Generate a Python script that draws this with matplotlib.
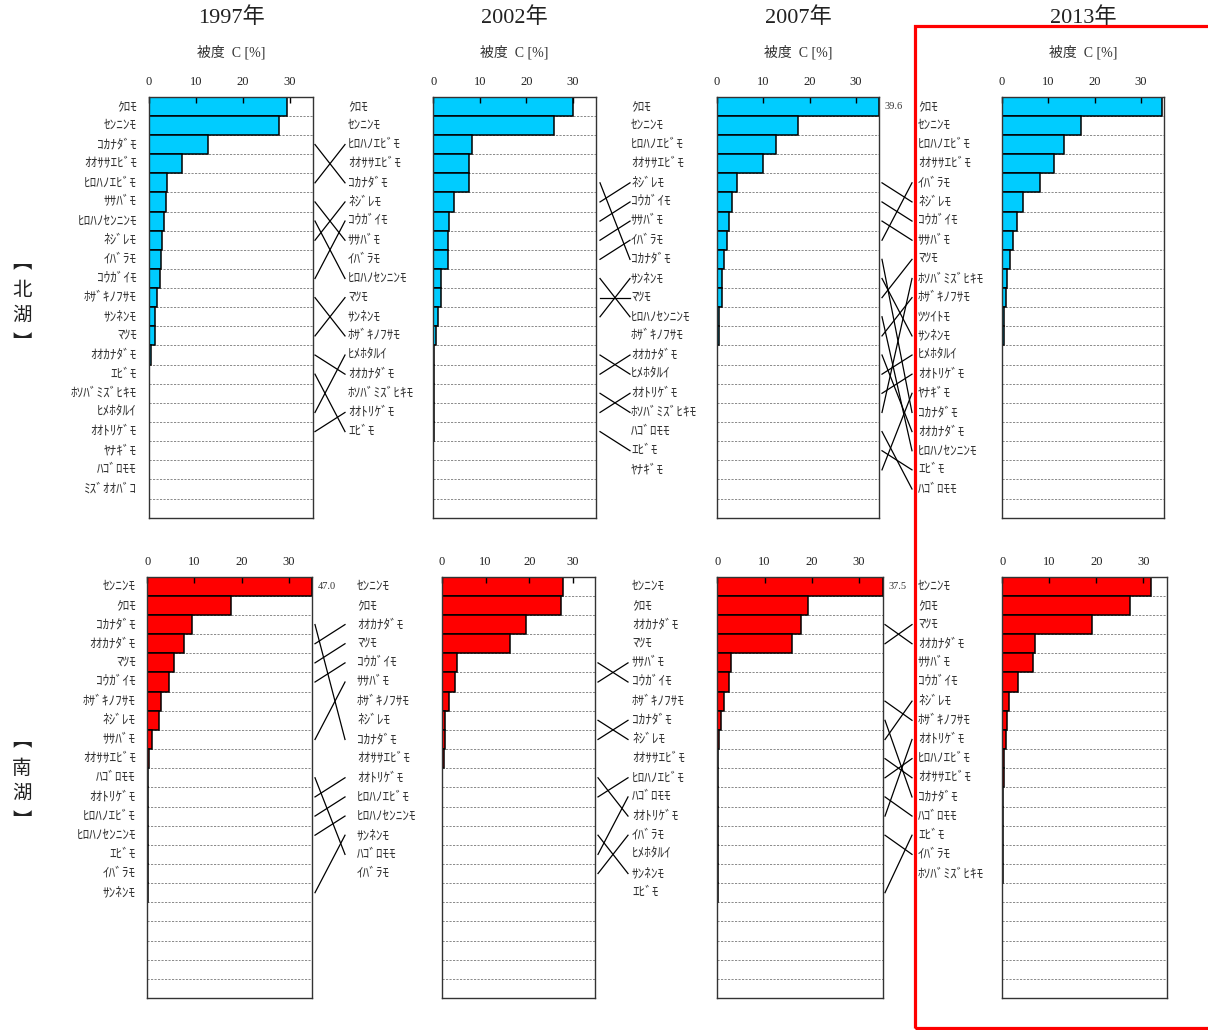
import matplotlib
matplotlib.use('Agg')
import matplotlib.pyplot as plt
from matplotlib.patches import Rectangle
from matplotlib.transforms import blended_transform_factory

W, H = 1208, 1030
JP = ['Noto Sans CJK JP', 'DejaVu Sans']
SERIF = ['Liberation Serif', 'Noto Sans CJK JP', 'DejaVu Sans']
plt.rcParams['font.family'] = SERIF

# ---------------- data ----------------
years = ['1997年', '2002年', '2007年', '2013年']
axis_title = '被度  C [%]'
x_ticks = [0, 10, 20, 30]
x_max = 35
n_rows = 22

north_1997_species = ['ｸﾛﾓ', 'ｾﾝﾆﾝﾓ', 'ｺｶﾅﾀﾞﾓ', 'ｵｵｻｻｴﾋﾞﾓ', 'ﾋﾛﾊﾉｴﾋﾞﾓ', 'ｻｻﾊﾞﾓ', 'ﾋﾛﾊﾉｾﾝﾆﾝﾓ',
                      'ﾈｼﾞﾚﾓ', 'ｲﾊﾞﾗﾓ', 'ｺｳｶﾞｲﾓ', 'ﾎｻﾞｷﾉﾌｻﾓ', 'ｻﾝﾈﾝﾓ', 'ﾏﾂﾓ', 'ｵｵｶﾅﾀﾞﾓ', 'ｴﾋﾞﾓ',
                      'ﾎｿﾊﾞﾐｽﾞﾋｷﾓ', 'ﾋﾒﾎﾀﾙｲ', 'ｵｵﾄﾘｹﾞﾓ', 'ﾔﾅｷﾞﾓ', 'ﾊｺﾞﾛﾓﾓ', 'ﾐｽﾞｵｵﾊﾞｺ']
north_1997_cover = [29.4, 27.7, 12.6, 7.1, 3.9, 3.7, 3.3, 2.7, 2.5, 2.3, 1.8, 1.3, 1.3, 0.4,
                    0.1, 0.1, 0.1, 0.1, 0.05, 0.05, 0.05]

north_2002_species = ['ｸﾛﾓ', 'ｾﾝﾆﾝﾓ', 'ﾋﾛﾊﾉｴﾋﾞﾓ', 'ｵｵｻｻｴﾋﾞﾓ', 'ｺｶﾅﾀﾞﾓ', 'ﾈｼﾞﾚﾓ', 'ｺｳｶﾞｲﾓ', 'ｻｻﾊﾞﾓ',
                      'ｲﾊﾞﾗﾓ', 'ﾋﾛﾊﾉｾﾝﾆﾝﾓ', 'ﾏﾂﾓ', 'ｻﾝﾈﾝﾓ', 'ﾎｻﾞｷﾉﾌｻﾓ', 'ﾋﾒﾎﾀﾙｲ', 'ｵｵｶﾅﾀﾞﾓ',
                      'ﾎｿﾊﾞﾐｽﾞﾋｷﾓ', 'ｵｵﾄﾘｹﾞﾓ', 'ｴﾋﾞﾓ']
north_2002_cover = [30.1, 25.9, 8.4, 7.6, 7.6, 4.5, 3.4, 3.1, 3.1, 1.7, 1.7, 1.1, 0.6,
                    0.1, 0.1, 0.1, 0.05, 0.05]

north_2007_species = ['ｸﾛﾓ', 'ｾﾝﾆﾝﾓ', 'ﾋﾛﾊﾉｴﾋﾞﾓ', 'ｵｵｻｻｴﾋﾞﾓ', 'ﾈｼﾞﾚﾓ', 'ｺｳｶﾞｲﾓ', 'ｻｻﾊﾞﾓ', 'ｲﾊﾞﾗﾓ',
                      'ｺｶﾅﾀﾞﾓ', 'ｻﾝﾈﾝﾓ', 'ﾏﾂﾓ', 'ﾋﾛﾊﾉｾﾝﾆﾝﾓ', 'ﾎｻﾞｷﾉﾌｻﾓ', 'ｵｵｶﾅﾀﾞﾓ', 'ﾋﾒﾎﾀﾙｲ',
                      'ｵｵﾄﾘｹﾞﾓ', 'ﾎｿﾊﾞﾐｽﾞﾋｷﾓ', 'ﾊｺﾞﾛﾓﾓ', 'ｴﾋﾞﾓ', 'ﾔﾅｷﾞﾓ']
north_2007_cover = [39.6, 17.4, 12.7, 10.0, 4.4, 3.2, 2.7, 2.3, 1.6, 1.1, 1.1, 0.5, 0.5,
                    0.1, 0.1, 0.1, 0.1, 0.05, 0.05, 0.05]

north_2013_species = ['ｸﾛﾓ', 'ｾﾝﾆﾝﾓ', 'ﾋﾛﾊﾉｴﾋﾞﾓ', 'ｵｵｻｻｴﾋﾞﾓ', 'ｲﾊﾞﾗﾓ', 'ﾈｼﾞﾚﾓ', 'ｺｳｶﾞｲﾓ', 'ｻｻﾊﾞﾓ',
                      'ﾏﾂﾓ', 'ﾎｿﾊﾞﾐｽﾞﾋｷﾓ', 'ﾎｻﾞｷﾉﾌｻﾓ', 'ﾂﾂｲﾄﾓ', 'ｻﾝﾈﾝﾓ', 'ﾋﾒﾎﾀﾙｲ', 'ｵｵﾄﾘｹﾞﾓ',
                      'ﾔﾅｷﾞﾓ', 'ｺｶﾅﾀﾞﾓ', 'ｵｵｶﾅﾀﾞﾓ', 'ﾋﾛﾊﾉｾﾝﾆﾝﾓ', 'ｴﾋﾞﾓ', 'ﾊｺﾞﾛﾓﾓ']
north_2013_cover = [34.4, 17.1, 13.4, 11.2, 8.2, 4.6, 3.4, 2.5, 1.8, 1.1, 0.9, 0.4, 0.4,
                    0.1, 0.1, 0.1, 0.1, 0.05, 0.05, 0.05, 0.05]

south_1997_species = ['ｾﾝﾆﾝﾓ', 'ｸﾛﾓ', 'ｺｶﾅﾀﾞﾓ', 'ｵｵｶﾅﾀﾞﾓ', 'ﾏﾂﾓ', 'ｺｳｶﾞｲﾓ', 'ﾎｻﾞｷﾉﾌｻﾓ', 'ﾈｼﾞﾚﾓ',
                      'ｻｻﾊﾞﾓ', 'ｵｵｻｻｴﾋﾞﾓ', 'ﾊｺﾞﾛﾓﾓ', 'ｵｵﾄﾘｹﾞﾓ', 'ﾋﾛﾊﾉｴﾋﾞﾓ', 'ﾋﾛﾊﾉｾﾝﾆﾝﾓ', 'ｴﾋﾞﾓ',
                      'ｲﾊﾞﾗﾓ', 'ｻﾝﾈﾝﾓ']
south_1997_cover = [47.0, 17.7, 9.4, 7.7, 5.7, 4.5, 3.0, 2.4, 1.1, 0.4, 0.2,
                    0.05, 0.05, 0.05, 0.05, 0.05, 0.05]

south_2002_species = ['ｾﾝﾆﾝﾓ', 'ｸﾛﾓ', 'ｵｵｶﾅﾀﾞﾓ', 'ﾏﾂﾓ', 'ｺｳｶﾞｲﾓ', 'ｻｻﾊﾞﾓ', 'ﾎｻﾞｷﾉﾌｻﾓ', 'ﾈｼﾞﾚﾓ',
                      'ｺｶﾅﾀﾞﾓ', 'ｵｵｻｻｴﾋﾞﾓ', 'ｵｵﾄﾘｹﾞﾓ', 'ﾋﾛﾊﾉｴﾋﾞﾓ', 'ﾋﾛﾊﾉｾﾝﾆﾝﾓ', 'ｻﾝﾈﾝﾓ', 'ﾊｺﾞﾛﾓﾓ',
                      'ｲﾊﾞﾗﾓ']
south_2002_cover = [27.6, 27.3, 19.2, 15.6, 3.4, 3.0, 1.7, 0.8, 0.8, 0.5,
                    0.05, 0.05, 0.05, 0.05, 0.05, 0.05]

south_2007_species = ['ｾﾝﾆﾝﾓ', 'ｸﾛﾓ', 'ｵｵｶﾅﾀﾞﾓ', 'ﾏﾂﾓ', 'ｻｻﾊﾞﾓ', 'ｺｳｶﾞｲﾓ', 'ﾎｻﾞｷﾉﾌｻﾓ', 'ｺｶﾅﾀﾞﾓ',
                      'ﾈｼﾞﾚﾓ', 'ｵｵｻｻｴﾋﾞﾓ', 'ﾋﾛﾊﾉｴﾋﾞﾓ', 'ﾊｺﾞﾛﾓﾓ', 'ｵｵﾄﾘｹﾞﾓ', 'ｲﾊﾞﾗﾓ', 'ﾋﾒﾎﾀﾙｲ',
                      'ｻﾝﾈﾝﾓ', 'ｴﾋﾞﾓ']
south_2007_cover = [37.5, 19.1, 17.8, 15.9, 3.0, 2.5, 1.5, 0.7, 0.35,
                    0.05, 0.05, 0.05, 0.05, 0.05, 0.05, 0.05, 0.05]

south_2013_species = ['ｾﾝﾆﾝﾓ', 'ｸﾛﾓ', 'ﾏﾂﾓ', 'ｵｵｶﾅﾀﾞﾓ', 'ｻｻﾊﾞﾓ', 'ｺｳｶﾞｲﾓ', 'ﾈｼﾞﾚﾓ', 'ﾎｻﾞｷﾉﾌｻﾓ',
                      'ｵｵﾄﾘｹﾞﾓ', 'ﾋﾛﾊﾉｴﾋﾞﾓ', 'ｵｵｻｻｴﾋﾞﾓ', 'ｺｶﾅﾀﾞﾓ', 'ﾊｺﾞﾛﾓﾓ', 'ｴﾋﾞﾓ', 'ｲﾊﾞﾗﾓ',
                      'ﾎｿﾊﾞﾐｽﾞﾋｷﾓ']
south_2013_cover = [31.6, 27.2, 19.0, 6.9, 6.5, 3.3, 1.5, 1.1, 0.7, 0.35, 0.35,
                    0.05, 0.05, 0.05, 0.05, 0.05]

# connectors also drawn for these species although rank unchanged (row, gap index)
extra_links = {('north', 1): ['ﾏﾂﾓ']}

north_color = '#00CCFF'
south_color = '#FF0000'

# ---------------- layout (pixels) ----------------
north_panels_x = [(149, 313.3), (433.3, 596), (716.7, 879.3), (1001.7, 1164.3)]
north_y = (96.7, 517.7)
south_panels_x = [(147.3, 312.3), (441.7, 595), (717.3, 882.7), (1002.3, 1166.7)]
south_y = (576.7, 998.0)

north_first_label_x = 137
south_first_label_x = 136
north_label_x = [348, 631, 918]
south_label_x = [357, 632, 918]
north_link_x = [(315, 345), (600, 630), (882, 912)]
south_link_x = [(315, 345), (598, 628), (885, 912)]

fig = plt.figure(figsize=(W / 100, H / 100), dpi=100)


def add_px_axes(x0, x1, y0, y1):
    return fig.add_axes([x0 / W, 1 - y1 / H, (x1 - x0) / W, (y1 - y0) / H])


def px_to_axfrac(px, x0, x1):
    return (px - x0) / (x1 - x0)


def draw_panel(ax, cover, color):
    ax.set_xlim(0, x_max)
    ax.set_ylim(n_rows, 0)
    ax.set_axisbelow(False)
    ax.hlines(range(1, n_rows), 0, x_max, colors='#8a8a8a',
              linestyles=(0, (2.2, 1.4)), lw=0.7, zorder=1)
    ypos = [i + 0.5 for i in range(len(cover))]
    shown = [min(v, x_max) for v in cover]
    ax.barh(ypos, shown, height=1.0, color=color, edgecolor='black',
            linewidth=1.1, zorder=2)
    blend = blended_transform_factory(ax.transAxes, ax.transData)
    for y, v in zip(ypos, cover):
        if v > x_max:
            ax.text(1.035, y, f'{v:.1f}', transform=blend, ha='left', va='center',
                    fontsize=7.5, color='#333333')
    ax.xaxis.tick_top()
    ax.set_xticks(x_ticks)
    ax.tick_params(axis='x', direction='in', length=4, width=1, labelsize=9,
                   pad=6, colors='black', labelcolor='#222222')
    ax.set_yticks([])
    for sp in ax.spines.values():
        sp.set_color('#333333')
        sp.set_linewidth(1.0)
        sp.set_zorder(4)


def draw_row(name, species_lists, cover_lists, panels_x, ys, color,
             first_label_x, label_x, link_x, with_titles):
    axes = []
    for k, (x0, x1) in enumerate(panels_x):
        ax = add_px_axes(x0, x1, ys[0], ys[1])
        draw_panel(ax, cover_lists[k], color)
        axes.append(ax)
        cx = (x0 + x1) / 2
        if with_titles:
            fig.text(cx / W, 1 - 18 / H, years[k], ha='center', va='center',
                     fontsize=16, color='#222222')
            fig.text(cx / W, 1 - 52 / H, axis_title, ha='center', va='center',
                     fontsize=10, color='#333333')
    # labels
    for k, ax in enumerate(axes):
        x0, x1 = panels_x[k]
        blend = blended_transform_factory(ax.transAxes, ax.transData)
        if k == 0:
            xf = px_to_axfrac(first_label_x, x0, x1)
            ha = 'right'
        else:
            xf = px_to_axfrac(label_x[k - 1], x0, x1)
            ha = 'left'
        for i, s in enumerate(species_lists[k]):
            ax.text(xf, i + 0.5, s, transform=blend, ha=ha, va='center',
                    fontsize=9.5, family=JP, color='#333333')
    # connectors
    for g in range(3):
        a_list, b_list = species_lists[g], species_lists[g + 1]
        ax = axes[g + 1]
        x0, x1 = panels_x[g + 1]
        blend = blended_transform_factory(ax.transAxes, ax.transData)
        xa = px_to_axfrac(link_x[g][0], x0, x1)
        xb = px_to_axfrac(link_x[g][1], x0, x1)
        extras = extra_links.get((name, g), [])
        for ib, s in enumerate(b_list):
            if s in a_list:
                ia = a_list.index(s)
                if ia != ib or s in extras:
                    ax.plot([xa, xb], [ia + 0.5, ib + 0.5], color='black', lw=0.9,
                            transform=blend, clip_on=False, zorder=3)
    return axes


draw_row('north',
         [north_1997_species, north_2002_species, north_2007_species, north_2013_species],
         [north_1997_cover, north_2002_cover, north_2007_cover, north_2013_cover],
         north_panels_x, north_y, north_color,
         north_first_label_x, north_label_x, north_link_x, True)

draw_row('south',
         [south_1997_species, south_2002_species, south_2007_species, south_2013_species],
         [south_1997_cover, south_2002_cover, south_2007_cover, south_2013_cover],
         south_panels_x, south_y, south_color,
         south_first_label_x, south_label_x, south_link_x, False)


# region labels (vertical)
def vertical_label(chars, ys_px, x_px=22):
    for ch, y in zip(chars, ys_px):
        fig.text(x_px / W, 1 - y / H, ch, ha='center', va='center',
                 fontsize=14, family=JP, color='#222222')


vertical_label(['︻', '北', '湖', '︼'], [262, 291, 315, 343])
vertical_label(['︻', '南', '湖', '︼'], [740, 768, 793, 821])

# red highlight frame around 2013
fig.patches.append(Rectangle((914.5 / W, 1 - 1027.5 / H), (1215 - 914.5) / W, (1027.5 - 25.5) / H,
                             transform=fig.transFigure, fill=False, edgecolor='#FF0000',
                             linewidth=2.3, zorder=10))

fig.savefig('out.png', dpi=100)
